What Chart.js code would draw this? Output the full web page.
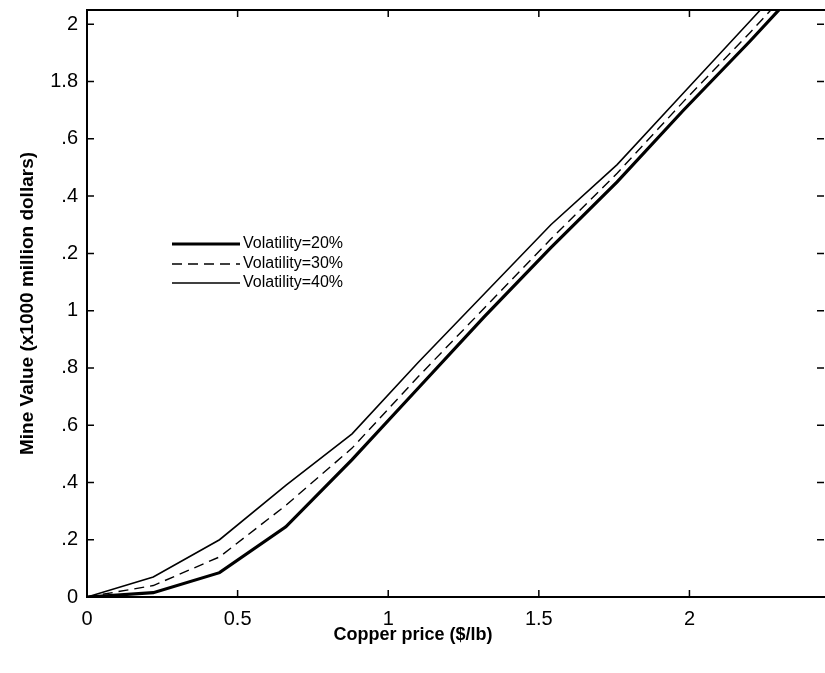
<!DOCTYPE html>
<html lang="en">

<head>
    <meta charset="UTF-8">
    <title>Mine Value vs Copper Price</title>
    <script src="https://cdn.jsdelivr.net/npm/chart.js"></script>
    <style>
        body {
            margin: 0;
            background: #fff;
        }

        .wrap {
            width: 825px;
            height: 673px;
            position: relative;
        }
    </style>
</head>

<body>
    <div class="wrap">
        <canvas id="mineChart"></canvas>
    </div>

    <script>
        // copper price grid ($/lb)
        const price = [0, 0.22, 0.44, 0.66, 0.88, 1.10, 1.32, 1.54, 1.76, 1.98, 2.20, 2.42];

        // mine value (x1000 million dollars) for each volatility
        const vol20 = [0, 0.015, 0.085, 0.245, 0.48, 0.73, 0.98, 1.22, 1.45, 1.70, 1.94, 2.19];
        const vol30 = [0, 0.04, 0.14, 0.32, 0.52, 0.77, 1.01, 1.25, 1.48, 1.73, 1.97, 2.22];
        const vol40 = [0, 0.07, 0.20, 0.39, 0.57, 0.82, 1.06, 1.30, 1.51, 1.76, 2.01, 2.26];

        const xTicks = [0, 0.5, 1, 1.5, 2];
        const xTickLabels = ['0', '0.5', '1', '1.5', '2'];
        const yTicks = [0, 0.2, 0.4, 0.6, 0.8, 1, 1.2, 1.4, 1.6, 1.8, 2];
        const yTickLabels = ['0', '.2', '.4', '.6', '.8', '1', '.2', '.4', '.6', '1.8', '2'];

        const seriesNames = ['Volatility=20%', 'Volatility=30%', 'Volatility=40%'];
        const xTitle = 'Copper price ($/lb)';

        const FONT = '"Liberation Sans", Arial, sans-serif';

        const toPoints = vals => price.map((p, i) => ({ x: p, y: vals[i] }));

        // axes frame with inward ticks, matlab style
        const frameTicks = {
            id: 'frameTicks',
            afterDatasetsDraw(chart) {
                const { ctx, chartArea: a, scales } = chart;
                const len = 7;
                ctx.save();
                ctx.strokeStyle = '#000';
                ctx.lineWidth = 1.5;
                ctx.beginPath();
                xTicks.forEach(v => {
                    const px = scales.x.getPixelForValue(v);
                    ctx.moveTo(px, a.bottom);
                    ctx.lineTo(px, a.bottom - len);
                    ctx.moveTo(px, a.top);
                    ctx.lineTo(px, a.top + len);
                });
                yTicks.forEach(v => {
                    const py = scales.y.getPixelForValue(v);
                    ctx.moveTo(a.left, py);
                    ctx.lineTo(a.left + len, py);
                    ctx.moveTo(a.right - 1, py);
                    ctx.lineTo(a.right - 1 - len, py);
                });
                ctx.stroke();
                // left, top and bottom edges (right edge falls off the figure)
                ctx.lineWidth = 2;
                ctx.beginPath();
                ctx.moveTo(a.right, a.top);
                ctx.lineTo(a.left, a.top);
                ctx.lineTo(a.left, a.bottom);
                ctx.lineTo(a.right, a.bottom);
                ctx.stroke();
                ctx.restore();
            }
        };

        // legend inside the axes + x axis label
        const innerLegend = {
            id: 'innerLegend',
            afterDraw(chart) {
                const { ctx } = chart;
                const x0 = 172, x1 = 240, rowY = [244, 264, 283];
                ctx.save();
                ctx.font = '16px ' + FONT;
                ctx.textBaseline = 'middle';
                ctx.fillStyle = '#000';
                chart.data.datasets.forEach((ds, i) => {
                    ctx.beginPath();
                    ctx.strokeStyle = ds.borderColor;
                    ctx.lineWidth = ds.borderWidth;
                    ctx.setLineDash(ds.borderDash || []);
                    ctx.moveTo(x0, rowY[i]);
                    ctx.lineTo(x1, rowY[i]);
                    ctx.stroke();
                    ctx.setLineDash([]);
                    ctx.fillText(ds.label, x1 + 3, rowY[i]);
                });
                ctx.font = 'bold 18px ' + FONT;
                ctx.textAlign = 'center';
                ctx.fillText(xTitle, 413, 635);
                ctx.restore();
            }
        };

        const ctx = document.getElementById('mineChart').getContext('2d');

        new Chart(ctx, {
            type: 'line',
            data: {
                datasets: [
                    {
                        label: seriesNames[0],
                        data: toPoints(vol20),
                        borderColor: '#000',
                        borderWidth: 3.2
                    },
                    {
                        label: seriesNames[1],
                        data: toPoints(vol30),
                        borderColor: '#000',
                        borderWidth: 1.4,
                        borderDash: [10, 6]
                    },
                    {
                        label: seriesNames[2],
                        data: toPoints(vol40),
                        borderColor: '#000',
                        borderWidth: 1.6
                    }
                ]
            },
            options: {
                responsive: true,
                maintainAspectRatio: false,
                animation: false,
                layout: {
                    padding: { top: 10, right: 0, left: 0, bottom: 0 }
                },
                elements: {
                    point: { radius: 0 },
                    line: { tension: 0 }
                },
                plugins: {
                    legend: { display: false },
                    tooltip: { enabled: false }
                },
                scales: {
                    x: {
                        type: 'linear',
                        min: 0,
                        max: 2.45,
                        grid: { display: false, drawTicks: false },
                        border: { display: false },
                        afterBuildTicks: s => { s.ticks = xTicks.map(v => ({ value: v })); },
                        afterFit: s => {
                            s.height = 76;
                            s.paddingLeft = 0;
                            s.paddingRight = 0;
                        },
                        ticks: {
                            padding: 10,
                            color: '#000',
                            font: { family: FONT, size: 20 },
                            callback: (v, i) => xTickLabels[i]
                        }
                    },
                    y: {
                        type: 'linear',
                        min: 0,
                        max: 2.05,
                        grid: { display: false, drawTicks: false },
                        border: { display: false },
                        afterBuildTicks: s => { s.ticks = yTicks.map(v => ({ value: v })); },
                        afterFit: s => {
                            s.width = 87;
                            s.paddingTop = 0;
                            s.paddingBottom = 0;
                        },
                        ticks: {
                            padding: 9,
                            color: '#000',
                            font: { family: FONT, size: 20 },
                            callback: (v, i) => yTickLabels[i]
                        },
                        title: {
                            display: true,
                            text: 'Mine Value (x1000 million dollars)',
                            color: '#000',
                            font: { family: FONT, size: 19, weight: 'bold' },
                            padding: { top: 16, bottom: 0 }
                        }
                    }
                }
            },
            plugins: [frameTicks, innerLegend]
        });
    </script>
</body>

</html>
